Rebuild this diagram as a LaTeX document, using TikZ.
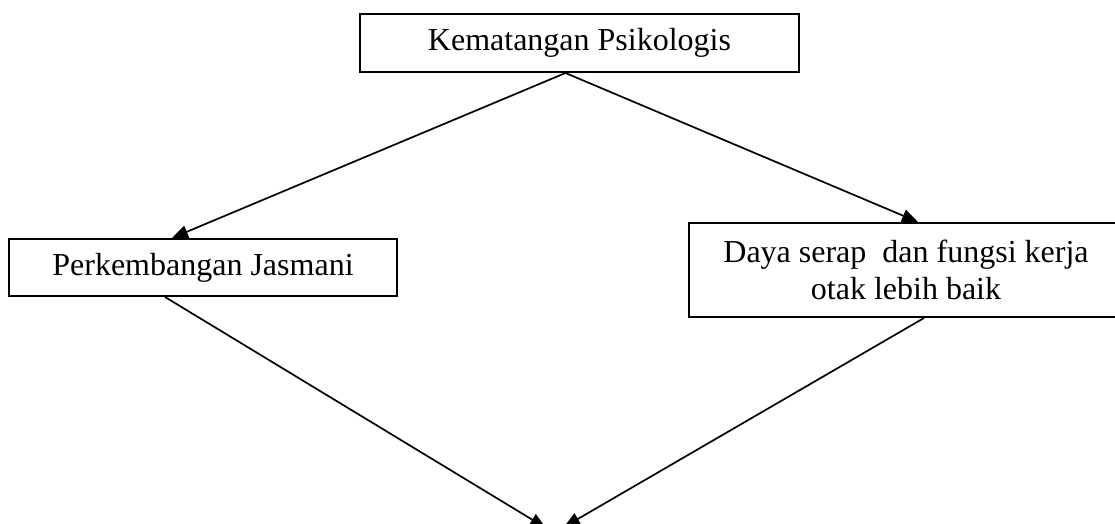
\documentclass[tikz,border=0pt]{standalone}
\usepackage{fontspec}
\setmainfont{Liberation Serif}
\usetikzlibrary{arrows.meta}
\tikzset{
  every picture/.style={line width=0.8pt},
  box/.style={draw, line width=1pt, rectangle, align=center, inner sep=0pt,
    font=\fontsize{16}{18.5}\selectfont},
  arrow/.style={-{Triangle[length=8pt, width=6.5pt]}, line width=0.85pt},
}
\begin{document}
\begin{tikzpicture}[x=0.5pt, y=-0.5pt]
  \useasboundingbox (0,0) rectangle (1115,524);
  \node[box, minimum width=219.5pt, minimum height=29pt] (top) at (579.5,43) {Kematangan Psikologis};
  \node[box, minimum width=194pt, minimum height=28.5pt] (jasmani) at (203,267.5) {Perkembangan Jasmani};
  \node[box, minimum width=217pt, minimum height=47pt] (otak) at (906,270) {Daya serap~ dan fungsi kerja\\otak lebih baik};
  \coordinate (endL) at (546,528);
  \coordinate (endR) at (564,527);
  \draw[arrow] ([xshift=-7pt]top.south) -- ([xshift=-15.5pt]jasmani.north);
  \draw[arrow] ([xshift=-7pt]top.south) -- ([xshift=6pt]otak.north);
  \draw[arrow] ([xshift=-19pt]jasmani.south) -- (endL);
  \draw[arrow] ([xshift=9pt]otak.south) -- (endR);
\end{tikzpicture}
\end{document}
